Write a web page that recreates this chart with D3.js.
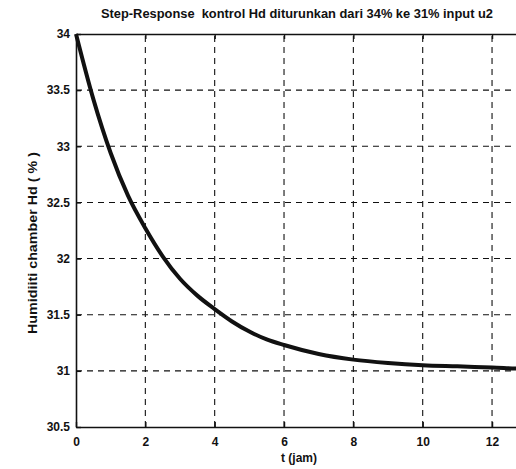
<!DOCTYPE html>
<html>
<head>
<meta charset="utf-8">
<script src="https://cdn.jsdelivr.net/npm/d3@7"></script>
<style>
  body { margin: 0; background: #fff; }
  svg { display: block; font-family: Arial, "Liberation Sans", sans-serif; }
</style>
</head>
<body>
<svg id="chart" width="516" height="469"></svg>
<script>
// step response
var timeJam = [0, 0.5, 1, 1.5, 2, 2.5, 3, 3.5, 4, 4.5, 5, 5.5, 6, 7, 8, 9, 10, 11, 12, 13, 14];
var humidity = [34, 33.42, 32.94, 32.56, 32.27, 32.02, 31.82, 31.67, 31.55, 31.44, 31.35, 31.28, 31.23, 31.15, 31.10, 31.07, 31.05, 31.04, 31.03, 31.02, 31.02];

var xTicks = [0, 2, 4, 6, 8, 10, 12];
var yTicks = [30.5, 31, 31.5, 32, 32.5, 33, 33.5, 34];

var titleText = 'Step-Response  kontrol Hd diturunkan dari 34% ke 31% input u2';
var xLabel = 't (jam)';
var yLabel = 'Humidiiti chamber Hd ( % )';

var margin = {left: 76, top: 34, bottom: 42};
var svg = d3.select('#chart');
var height = +svg.attr('height');

var x = d3.scaleLinear().domain([0, 14]).range([margin.left, margin.left + 14 * 34.67]);
var y = d3.scaleLinear().domain([30.5, 34]).range([height - margin.bottom, margin.top]);

var x0 = x.range()[0], x1 = x.range()[1];
var y0 = y.range()[0], y1 = y.range()[1];

// dashed grid
var grid = svg.append('g').attr('stroke', '#111').attr('stroke-width', 1.1).attr('stroke-dasharray', '6,5');
grid.selectAll('line.v')
  .data(xTicks.slice(1))
  .enter().append('line')
  .attr('x1', function(d) { return x(d); }).attr('x2', function(d) { return x(d); })
  .attr('y1', y0).attr('y2', y1);
grid.selectAll('line.h')
  .data(yTicks.slice(1, -1))
  .enter().append('line')
  .attr('x1', x0).attr('x2', x1)
  .attr('y1', function(d) { return y(d); }).attr('y2', function(d) { return y(d); });

// axes, ticks pointing inward like matlab
var xAxis = svg.append('g')
  .attr('transform', 'translate(0,' + y0 + ')')
  .call(d3.axisBottom(x).tickValues(xTicks).tickSizeInner(-5).tickSizeOuter(0).tickPadding(10));
var yAxis = svg.append('g')
  .attr('transform', 'translate(' + x0 + ',0)')
  .call(d3.axisLeft(y).tickValues(yTicks).tickSizeInner(-5).tickSizeOuter(0).tickPadding(6).tickFormat(d3.format('')));
svg.append('g')
  .attr('transform', 'translate(0,' + y1 + ')')
  .call(d3.axisTop(x).tickValues(xTicks).tickSizeInner(-5).tickSizeOuter(0).tickFormat(''));

[xAxis, yAxis].forEach(function(a) {
  a.selectAll('text').attr('fill', '#111').style('font-size', '12px').style('font-weight', 'bold');
});
svg.selectAll('.domain').attr('stroke', '#111').attr('stroke-width', 1.6);
svg.selectAll('.tick line').attr('stroke', '#111').attr('stroke-width', 1.4);

// response curve
var line = d3.line()
  .x(function(d, i) { return x(timeJam[i]); })
  .y(function(d) { return y(d); })
  .curve(d3.curveMonotoneX);

svg.append('path')
  .datum(humidity)
  .attr('d', line)
  .attr('fill', 'none')
  .attr('stroke', '#111')
  .attr('stroke-width', 4)
  .attr('stroke-linejoin', 'round');

// labels
svg.append('text')
  .attr('x', 297).attr('y', 18)
  .attr('text-anchor', 'middle')
  .attr('textLength', 392)
  .attr('lengthAdjust', 'spacingAndGlyphs')
  .style('white-space', 'pre')
  .style('font-size', '12px')
  .style('font-weight', 'bold')
  .attr('fill', '#111')
  .text(titleText);

svg.append('text')
  .attr('x', 299).attr('y', 462)
  .attr('text-anchor', 'middle')
  .style('font-size', '12px')
  .style('font-weight', 'bold')
  .attr('fill', '#111')
  .text(xLabel);

svg.append('text')
  .attr('transform', 'translate(37,243) rotate(-90)')
  .attr('text-anchor', 'middle')
  .attr('textLength', 182)
  .attr('lengthAdjust', 'spacingAndGlyphs')
  .style('font-size', '12.5px')
  .style('font-weight', 'bold')
  .attr('fill', '#111')
  .text(yLabel);
</script>
</body>
</html>
